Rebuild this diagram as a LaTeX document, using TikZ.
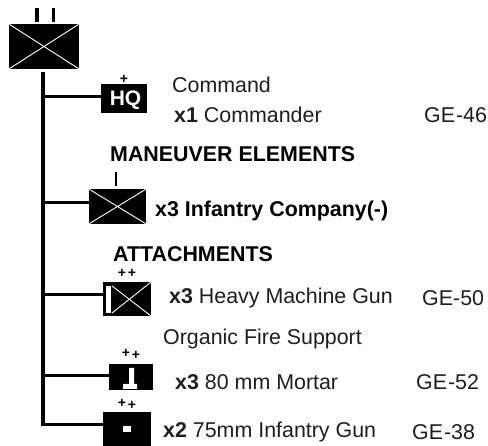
\documentclass[tikz,border=0pt]{standalone}
\usepackage{fontspec}
\setmainfont{Liberation Sans}
\usetikzlibrary{positioning,calc}
\definecolor{ink}{RGB}{0,0,0}
\definecolor{soft}{RGB}{30,30,30}
\tikzset{
  unit/.style={fill=ink,draw=ink,inner sep=0pt,minimum width=#1},
  unit/.default=46pt,
  link/.style={draw=ink,line width=3pt},
  cross/.style={draw=white,line width=0.9pt},
  grade/.style={font=\bfseries\fontsize{14}{14}\selectfont,inner sep=0pt,text=ink},
  label/.style={anchor=west,inner sep=0pt,font=\fontsize{21.4}{21.4}\selectfont,text=soft},
  head/.style={anchor=west,inner sep=0pt,font=\bfseries\fontsize{21.4}{21.4}\selectfont,text=ink},
}
\begin{document}
\begin{tikzpicture}[x=1pt,y=-1pt]
  \path[use as bounding box] (0,0) rectangle (488,446);
  % symbols
  \node[unit=69pt,minimum height=44pt] (main) at (44,46.5) {};
  \node[unit=45pt,minimum height=28pt] (hq) at (124,98.5) {};
  \node[inner sep=0pt,text=white,font=\bfseries\fontsize{21}{21}\selectfont] (hqname) at (125.5,100) {HQ};
  \node[unit=56pt,minimum height=34pt] (inf) at (117.5,206.5) {};
  \node[unit=47pt,minimum height=33pt] (hmg) at (127,299) {};
  \node[unit=43pt,minimum height=25pt] (mor) at (131,377) {};
  \node[unit=47pt,minimum height=34pt] (gun) at (127,429) {};
  \foreach \n in {main,inf}
    \draw[cross] (\n.north west) -- (\n.south east) (\n.north east) -- (\n.south west);
  % machine gun mark
  \fill[white] (106,286) -- (111,286) -- (111,313) -- (106,313) -- cycle;
  \draw[cross] (112,286) -- (hmg.south east) (112,313) -- (hmg.north east);
  % mortar mark
  \fill[white] (129,368) -- (134,368) -- (134,384) -- (137,384) -- (137,389) -- (123,389) -- (123,384) -- (129,384) -- cycle;
  \node[fill=white,minimum width=8pt,minimum height=6pt,inner sep=0pt] (gunmark) at (gun) {};
  % ticks
  \draw[ink,line width=3.6pt] (37,8) -- (37,22);
  \draw[ink,line width=3pt] (53,8) -- (53,22);
  \draw[ink,line width=1.4pt] (116,172) -- (116,186);
  \node[grade] (hqplus) at (124,79) {+};
  \foreach \n/\x/\y in {a/122/273,b/132/273,c/126/353,d/136/355,e/122/403,f/132/405}
    \node[grade] (plus\n) at (\x,\y) {+};
  % connectors
  \coordinate (bottom) at (43,425);
  \draw[link,line width=3.6pt] (43,72) -- (bottom);
  \draw[link] (43,97) -- (hq.west |- 0,97);
  \draw[link] (43,203) -- (inf.west |- 0,203);
  \draw[link] (43,295) -- (hmg.west |- 0,295);
  \draw[link] (43,376) -- (mor.west |- 0,376);
  \draw[link] (41.2,425) -- (gun.west |- 0,425);
  % texts
  \node[label] (t1) at (172,85) {Command};
  \node[label] (t2) at (174,115) {\textbf{x1} Commander};
  \node[label] (g1) at (424,115) {GE\hspace{1pt}-46};
  \node[head] (t3) at (110,154) {MANEUVER ELEMENTS};
  \node[head] (t4) at (155,211) {x3 Infantry Company(-)};
  \node[head] (t5) at (113,254) {ATTACHMENTS};
  \node[label] (t6) at (169,298) {\textbf{x3} Heavy Machine Gun};
  \node[label] (g2) at (422,298) {GE-50};
  \node[label] (t7) at (163,339) {Organic Fire Support};
  \node[label] (t8) at (175,382) {\textbf{x3} 80 mm Mortar};
  \node[label] (g3) at (416,382) {GE\hspace{1pt}-52};
  \node[label] (t9) at (163,432) {\textbf{x2} 75mm Infantry Gun};
  \node[label] (g4) at (412,432) {GE\hspace{1pt}-38};
\end{tikzpicture}
\end{document}
